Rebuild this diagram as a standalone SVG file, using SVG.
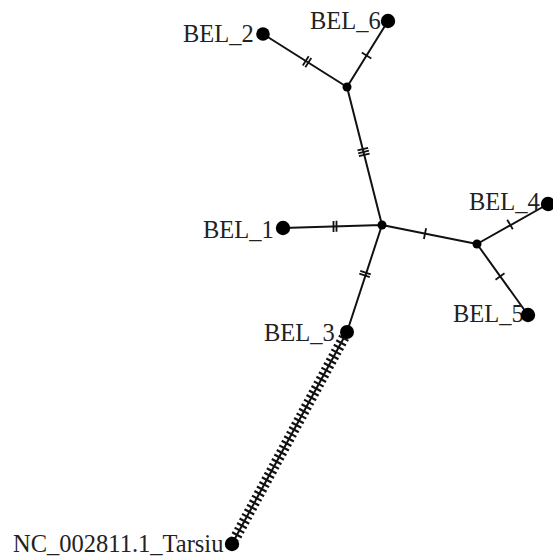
<svg xmlns="http://www.w3.org/2000/svg" width="553" height="559" viewBox="0 0 553 559">
<style>
.edge{stroke:#111;stroke-width:2;fill:none}
.tick{stroke:#111;stroke-width:1.8;fill:none}
.leaf{fill:#000}
.med{fill:#000}
.lbl{font-family:"Liberation Serif","Times New Roman",serif;font-size:24.5px;fill:#222}
</style>
<rect width="553" height="559" fill="#fff"/>
<g id="connectors">
<path class="edge" d="M263 34L347 87M388 21L347 87M347 87L382 225M283 228L382 225M382 225L347 332M382 225L477 244M477 244L548 204M477 244L528 315M347 332L232 544"/>
<path class="tick" d="M302.8 65.6L308.7 56.3M305.3 67.2L311.3 57.9"/>
<path class="tick" d="M361.8 52.6L371.3 58.4"/>
<path class="tick" d="M357.5 150.4L368.1 147.8M358.2 153.3L368.9 150.7M358.9 156.2L369.6 153.6"/>
<path class="tick" d="M333.5 220.9V231.9M336.5 220.8V231.8"/>
<path class="tick" d="M360.3 270.9L370.8 274.3M359.3 273.7L369.8 277.1"/>
<path class="tick" d="M426.1 228.2L423.9 239.0"/>
<path class="tick" d="M507.2 219.7L512.8 229.3"/>
<path class="tick" d="M495.5 279.7L504.5 273.3"/>
<line x1="344.1" y1="337.3" x2="234.9" y2="538.6" stroke="#111" stroke-width="11" stroke-dasharray="2.2 3"/>
</g>
<g id="med1"><circle class="med" cx="347" cy="87" r="4.5"/></g>
<g id="med2"><circle class="med" cx="382" cy="225" r="4.5"/></g>
<g id="med3"><circle class="med" cx="477" cy="244" r="4.5"/></g>
<g id="BEL_2"><text class="lbl" x="183" y="42">BEL_2</text><circle class="leaf" cx="263" cy="34" r="6.8"/></g>
<g id="BEL_6"><text class="lbl" x="310" y="29">BEL_6</text><circle class="leaf" cx="388" cy="21" r="7.2"/></g>
<g id="BEL_1"><text class="lbl" x="203" y="238">BEL_1</text><circle class="leaf" cx="283" cy="228" r="7.2"/></g>
<g id="BEL_4"><text class="lbl" x="469" y="210">BEL_4</text><circle class="leaf" cx="548" cy="204" r="7.2"/></g>
<g id="BEL_5"><text class="lbl" x="453" y="322">BEL_5</text><circle class="leaf" cx="528" cy="315" r="7.2"/></g>
<g id="BEL_3"><text class="lbl" x="264" y="341">BEL_3</text><circle class="leaf" cx="347" cy="332" r="7"/></g>
<g id="NC_002811.1_Tarsiu"><text class="lbl" x="13" y="552">NC_002811.1_Tarsiu</text><circle class="leaf" cx="232" cy="544" r="7.2"/></g>
</svg>
